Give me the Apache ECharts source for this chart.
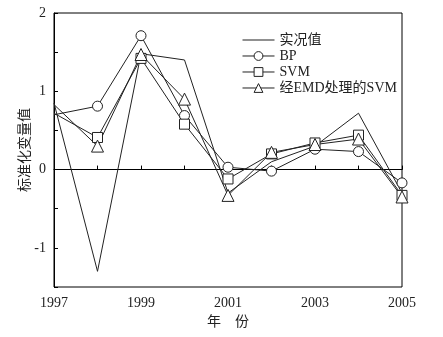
<!DOCTYPE html>
<html>
<head>
<meta charset="utf-8">
<script src="https://cdn.jsdelivr.net/npm/echarts@6/dist/echarts.min.js"></script>
<style>
html,body{margin:0;padding:0;background:#fff;}
#main{width:443px;height:337px;}
</style>
</head>
<body>
<div id="main"></div>
<script>
var years=[1997,1998,1999,2000,2001,2002,2003,2004,2005];
var actual=[0.85,-1.30,1.48,1.40,-0.30,0.10,0.30,0.72,-0.30];
var bp=[0.70,0.81,1.71,0.69,0.03,-0.02,0.26,0.23,-0.17];
var svm=[0.72,0.41,1.42,0.58,-0.12,0.20,0.34,0.44,-0.33];
var emdsvm=[0.83,0.30,1.47,0.90,-0.33,0.22,0.32,0.39,-0.35];
var names=['实况值','BP','SVM','经EMD处理的SVM'];

var chart=echarts.init(document.getElementById('main'));
var serif='"Liberation Serif","Noto Sans CJK SC",serif';

function pts(arr){
    // first point has no marker in the picture
    return arr.map(function(v,i){
        var p=[years[i],v];
        if(i==0) return {value:p,symbol:'none'};
        return p;
    });
}
function mk(name,arr,symbol,size){
    var s={
        name:name,
        type:'line',
        data:pts(arr),
        symbol:symbol,
        symbolSize:size,
        showSymbol:symbol!='none',
        lineStyle:{color:'#222',width:1},
        itemStyle:{color:'#fff',borderColor:'#222',borderWidth:1},
        emphasis:{disabled:true},
        animation:false
    };
    if(symbol=='none') s.itemStyle={color:'#222'};
    return s;
}

var option={
    backgroundColor:'#fff',
    grid:{left:54,right:41,top:13,bottom:50,show:true,borderColor:'#000',borderWidth:1},
    legend:{
        orient:'vertical',left:237,top:28,itemGap:2,itemWidth:32,itemHeight:11,
        symbolKeepAspect:true,
        lineStyle:{width:1},
        itemStyle:{borderWidth:1},
        textStyle:{fontFamily:serif,fontSize:14,color:'#222'},
        data:[{name:names[0],icon:'path://M0,0H32V1H0Z'},names[1],names[2],names[3]]
    },
    xAxis:{
        type:'value',min:1997,max:2005,interval:1,
        name:'年    份',nameLocation:'middle',nameGap:28,
        nameTextStyle:{fontFamily:serif,fontSize:14,color:'#222'},
        axisLine:{lineStyle:{color:'#000'}},
        axisTick:{inside:true,length:4,lineStyle:{color:'#000'}},
        splitLine:{show:false},
        axisLabel:{fontFamily:serif,fontSize:14,color:'#222',margin:9,
            formatter:function(v){return (v-1997)%2==0?String(v):'';}}
    },
    yAxis:{
        type:'value',min:-1.5,max:2,interval:0.5,
        name:'标准化变量值',nameLocation:'middle',nameGap:22,nameRotate:90,
        nameMoveOverlap:false,
        nameTextStyle:{fontFamily:serif,fontSize:14,color:'#222'},
        axisLine:{show:true,lineStyle:{color:'#000'}},
        axisTick:{inside:true,length:4,lineStyle:{color:'#000'}},
        splitLine:{show:false},
        axisLabel:{fontFamily:serif,fontSize:14,color:'#222',margin:8,
            formatter:function(v){return v%1==0?String(v):'';}}
    },
    series:[
        mk(names[0],actual,'none',0),
        mk(names[1],bp,'circle',10),
        mk(names[2],svm,'rect',10),
        mk(names[3],emdsvm,'triangle',12)
    ]
};
chart.setOption(option);
</script>
</body>
</html>
